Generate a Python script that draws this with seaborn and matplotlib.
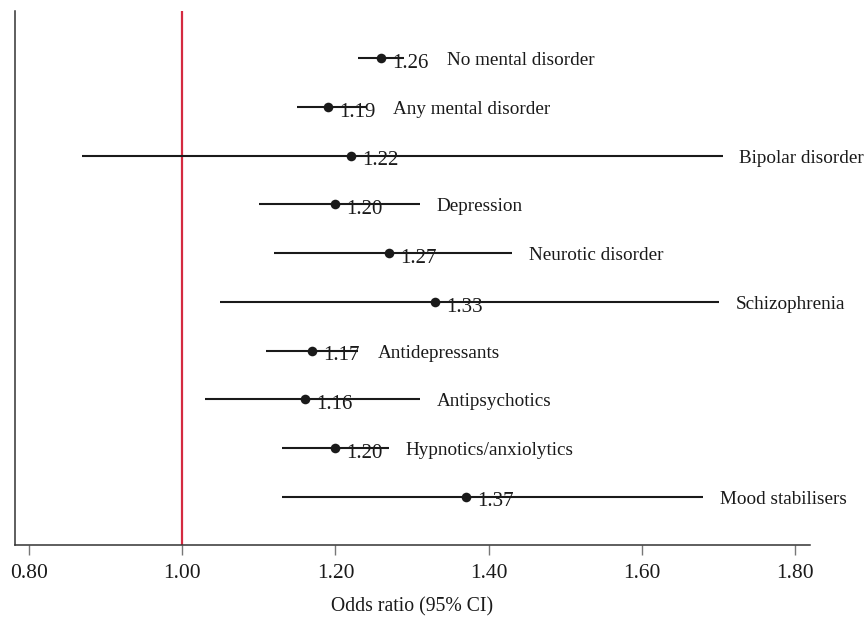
import numpy as np
import pandas as pd
import seaborn as sns
import matplotlib.pyplot as plt

# ================= DATOS =================
categorias = [
    "No mental disorder",
    "Any mental disorder",
    "Bipolar disorder",
    "Depression",
    "Neurotic disorder",
    "Schizophrenia",
    "Antidepressants",
    "Antipsychotics",
    "Hypnotics/anxiolytics",
    "Mood stabilisers",
]
odds_ratio = [1.26, 1.19, 1.22, 1.20, 1.27, 1.33, 1.17, 1.16, 1.20, 1.37]
ci_low = [1.23, 1.15, 0.87, 1.10, 1.12, 1.05, 1.11, 1.03, 1.13, 1.13]
ci_high = [1.29, 1.24, 1.705, 1.31, 1.43, 1.70, 1.23, 1.31, 1.27, 1.68]
xticks = [0.80, 1.00, 1.20, 1.40, 1.60, 1.80]

df = pd.DataFrame({
    "cat": categorias,
    "or": odds_ratio,
    "lo": ci_low,
    "hi": ci_high,
})
df["row"] = np.arange(len(df))

# ================= ESTILO =================
sns.set_theme(style="white")
plt.rcParams["font.family"] = ["Liberation Serif", "DejaVu Serif"]

fig, ax = plt.subplots(figsize=(8.65, 6.18), dpi=100)
fig.subplots_adjust(left=15 / 865, right=810 / 865, top=1 - 11 / 618, bottom=1 - 545 / 618)

INK = "#1a1a1a"

# Intervalos de confianza
ax.hlines(df["row"], df["lo"], df["hi"], color=INK, linewidth=1.5, zorder=2)

# Estimaciones puntuales
sns.scatterplot(data=df, x="or", y="row", ax=ax, color=INK, s=48,
                edgecolor=INK, linewidth=0, zorder=3, legend=False)

# Linea de referencia OR = 1
ax.axvline(1.0, color="#d42a40", linewidth=1.6, zorder=1)

# Etiquetas de valor y categoria
for _, r in df.iterrows():
    ax.annotate(f"{r['or']:.2f}", xy=(r["or"], r["row"]), xytext=(8, -3.7),
                textcoords="offset points", ha="left", va="center",
                fontsize=15, color=INK, zorder=4)
    lab_x = max(r["hi"], r["or"] + 0.063) + 0.022
    ax.text(lab_x, r["row"] + 0.05, r["cat"], ha="left", va="center",
            fontsize=13.8, color=INK)

ax.set_xlim(0.782, 1.819)
ax.set_ylim(9.99, -0.97)
ax.set_xticks(xticks)
ax.set_xticklabels([f"{t:.2f}" for t in xticks], fontsize=15.5, color=INK)
ax.set_yticks([])
ax.set_xlabel("Odds ratio (95% CI)", fontsize=14.2, color=INK, labelpad=10)
ax.set_ylabel("")

sns.despine(ax=ax, top=True, right=True)
for s in ["left", "bottom"]:
    ax.spines[s].set_color("#333333")
    ax.spines[s].set_linewidth(1.1)
ax.tick_params(axis="x", direction="out", length=7, width=1, color="#777777",
               bottom=True, pad=7)

plt.savefig("out.png", dpi=100)
